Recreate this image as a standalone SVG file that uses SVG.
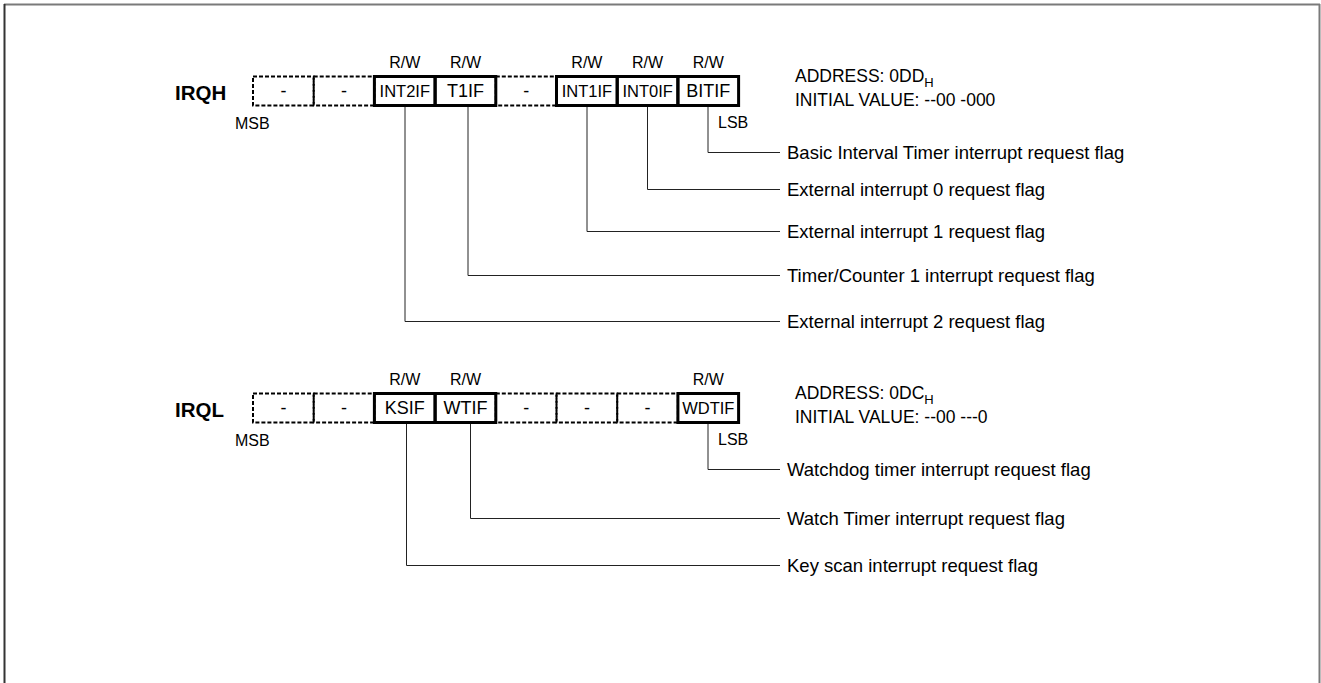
<svg xmlns="http://www.w3.org/2000/svg" width="1321" height="683" viewBox="0 0 1321 683">
<style>
text{font-family:"Liberation Sans",Arial,sans-serif;fill:#000}
.reg{font-weight:bold;font-size:20.5px}
.lbl{font-size:16px}
.cell{font-size:18px;text-anchor:middle}
.cs{font-size:16.5px;text-anchor:middle}
.rw{font-size:16px;text-anchor:middle}
.desc{font-size:18.5px}
.addr{font-size:17.5px}
.sub{font-size:13px}
.dash{fill:none;stroke:#000;stroke-width:2;stroke-dasharray:4 2}
.solid{fill:none;stroke:#000;stroke-width:3}
.conn{fill:none;stroke:#222;stroke-width:1}
</style>
<g id="frame">
<line x1="4" y1="4.5" x2="1320" y2="4.5" stroke="#7a7a7a" stroke-width="2"/>
<line x1="4.5" y1="4" x2="4.5" y2="683" stroke="#333" stroke-width="2"/>
<line x1="1319.5" y1="4" x2="1319.5" y2="683" stroke="#7a7a7a" stroke-width="2"/>
</g>
<g id="irqh">
<text class="reg" x="175" y="100">IRQH</text>
<text class="lbl" x="235" y="129">MSB</text>
<text class="lbl" x="718" y="128">LSB</text>
<rect class="dash" x="253" y="76.5" width="60.7" height="29"/>
<rect class="dash" x="313.7" y="76.5" width="60.7" height="29"/>
<rect class="dash" x="495.8" y="76.5" width="60.7" height="29"/>
<rect class="solid" x="374.4" y="76.5" width="60.7" height="29"/>
<rect class="solid" x="435.1" y="76.5" width="60.7" height="29"/>
<rect class="solid" x="556.5" y="76.5" width="60.7" height="29"/>
<rect class="solid" x="617.2" y="76.5" width="60.7" height="29"/>
<rect class="solid" x="677.9" y="76.5" width="60.7" height="29"/>
<text class="cell" x="283.4" y="97">-</text>
<text class="cell" x="344" y="97">-</text>
<text class="cs" x="404.8" y="97">INT2IF</text>
<text class="cell" x="465.5" y="97">T1IF</text>
<text class="cell" x="526.2" y="97">-</text>
<text class="cs" x="586.9" y="97">INT1IF</text>
<text class="cs" x="647.6" y="97">INT0IF</text>
<text class="cell" x="708.3" y="97">BITIF</text>
<text class="rw" x="404.8" y="68">R/W</text>
<text class="rw" x="465.5" y="68">R/W</text>
<text class="rw" x="586.9" y="68">R/W</text>
<text class="rw" x="647.6" y="68">R/W</text>
<text class="rw" x="708.3" y="68">R/W</text>
<text class="addr" x="795" y="82">ADDRESS: 0DD<tspan class="sub" dy="5">H</tspan></text>
<text class="addr" x="795" y="106">INITIAL VALUE: --00 -000</text>
</g>
<g id="irql">
<text class="reg" x="175" y="417">IRQL</text>
<text class="lbl" x="235" y="446">MSB</text>
<text class="lbl" x="718" y="445">LSB</text>
<rect class="dash" x="253" y="393.5" width="60.7" height="29"/>
<rect class="dash" x="313.7" y="393.5" width="60.7" height="29"/>
<rect class="dash" x="495.8" y="393.5" width="60.7" height="29"/>
<rect class="dash" x="556.5" y="393.5" width="60.7" height="29"/>
<rect class="dash" x="617.2" y="393.5" width="60.7" height="29"/>
<rect class="solid" x="374.4" y="393.5" width="60.7" height="29"/>
<rect class="solid" x="435.1" y="393.5" width="60.7" height="29"/>
<rect class="solid" x="677.9" y="393.5" width="60.7" height="29"/>
<text class="cell" x="283.4" y="414">-</text>
<text class="cell" x="344" y="414">-</text>
<text class="cell" x="404.8" y="414">KSIF</text>
<text class="cell" x="465.5" y="414">WTIF</text>
<text class="cell" x="526.2" y="414">-</text>
<text class="cell" x="586.9" y="414">-</text>
<text class="cell" x="647.6" y="414">-</text>
<text class="cs" x="708.3" y="414">WDTIF</text>
<text class="rw" x="404.8" y="385">R/W</text>
<text class="rw" x="465.5" y="385">R/W</text>
<text class="rw" x="708.3" y="385">R/W</text>
<text class="addr" x="795" y="399">ADDRESS: 0DC<tspan class="sub" dy="5">H</tspan></text>
<text class="addr" x="795" y="423">INITIAL VALUE: --00 ---0</text>
</g>
<g id="connectors">
<path class="conn" d="M708 107 V152.5 H780"/>
<path class="conn" d="M647.5 107 V189.5 H780"/>
<path class="conn" d="M587 107 V231.5 H780"/>
<path class="conn" d="M468 107 V275.5 H780"/>
<path class="conn" d="M405 107 V321.5 H780"/>
<path class="conn" d="M708 424 V469.5 H780"/>
<path class="conn" d="M470.5 424 V518.5 H780"/>
<path class="conn" d="M406.5 424 V565.5 H780"/>
</g>
<g id="descriptions">
<text id="d-bitif" class="desc" x="787" y="159">Basic Interval Timer interrupt request flag</text>
<text id="d-int0" class="desc" x="787" y="196">External interrupt 0 request flag</text>
<text id="d-int1" class="desc" x="787" y="238">External interrupt 1 request flag</text>
<text id="d-t1" class="desc" x="787" y="282">Timer/Counter 1 interrupt request flag</text>
<text id="d-int2" class="desc" x="787" y="328">External interrupt 2 request flag</text>
<text id="d-wdt" class="desc" x="787" y="476">Watchdog timer interrupt request flag</text>
<text id="d-wt" class="desc" x="787" y="525">Watch Timer interrupt request flag</text>
<text id="d-ks" class="desc" x="787" y="572">Key scan interrupt request flag</text>
</g>
</svg>
